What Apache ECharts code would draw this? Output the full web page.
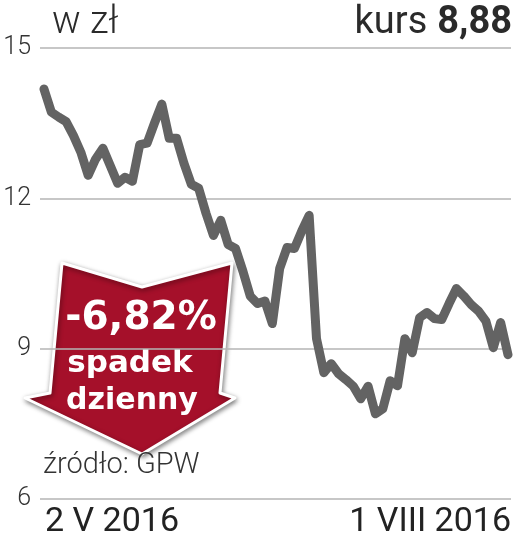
<!DOCTYPE html>
<html><head><meta charset="utf-8">
<script src="https://cdn.jsdelivr.net/npm/echarts@6/dist/echarts.min.js"></script>
<style>html,body{margin:0;padding:0;background:#fff}#c{width:516px;height:551px}</style>
</head><body><div id="c"></div>
<script>
const dates = [
  '2016-05-02','2016-05-04','2016-05-05','2016-05-06','2016-05-09','2016-05-10','2016-05-11','2016-05-12','2016-05-13',
  '2016-05-16','2016-05-17','2016-05-18','2016-05-19','2016-05-20','2016-05-23','2016-05-24','2016-05-25','2016-05-27',
  '2016-05-30','2016-05-31','2016-06-01','2016-06-02','2016-06-03','2016-06-06','2016-06-07','2016-06-08','2016-06-09',
  '2016-06-10','2016-06-13','2016-06-14','2016-06-15','2016-06-16','2016-06-17','2016-06-20','2016-06-21','2016-06-22',
  '2016-06-23','2016-06-24','2016-06-27','2016-06-28','2016-06-29','2016-06-30','2016-07-01','2016-07-04','2016-07-05',
  '2016-07-06','2016-07-07','2016-07-08','2016-07-11','2016-07-12','2016-07-13','2016-07-14','2016-07-15','2016-07-18',
  '2016-07-19','2016-07-20','2016-07-21','2016-07-22','2016-07-25','2016-07-26','2016-07-27','2016-07-28','2016-07-29',
  '2016-08-01'
];
const prices = [
  14.18, 13.72, 13.62, 13.53, 13.25, 12.92, 12.46, 12.78, 13.0, 12.65,
  12.3, 12.42, 12.34, 13.07, 13.1, 13.5, 13.88, 13.2, 13.2, 12.7,
  12.28, 12.2, 11.7, 11.26, 11.56, 11.08, 11.0, 10.55, 10.05, 9.9,
  9.95, 9.5, 10.6, 11.02, 11.0, 11.35, 11.66, 9.2, 8.52, 8.7,
  8.5, 8.38, 8.25, 8.0, 8.25, 7.7, 7.8, 8.36, 8.26, 9.2,
  8.92, 9.62, 9.72, 9.6, 9.58, 9.9, 10.2, 10.05, 9.88, 9.75,
  9.55, 9.02, 9.52, 8.88
];
const yTicks = [6, 9, 12, 15];
const xTickLabels = ['2 V 2016', '1 VIII 2016'];
const unitLabel = 'w zł';
const priceLabel = 'kurs';
const lastPrice = '8,88';
const changeLabel = '-6,82%';
const changeLines = ['spadek', 'dzienny'];
const sourceLabel = 'źródło: GPW';

const chart = echarts.init(document.getElementById('c'), null, {renderer: 'canvas'});
const yMin = yTicks[0], yMax = yTicks[yTicks.length - 1], yStep = yTicks[1] - yTicks[0];
const last = dates.length - 1;

chart.setOption({
  animation: false,
  backgroundColor: '#ffffff',
  grid: [
    {left: 44, right: 8, top: 48, bottom: 52},
    {left: 40, right: 5, top: 48, bottom: 52}
  ],
  xAxis: [
    {
      type: 'category', gridIndex: 0, data: dates, boundaryGap: false,
      axisLine: {show: false}, axisTick: {show: false}, splitLine: {show: false},
      axisLabel: {
        interval: (i) => i === 0 || i === last,
        formatter: (v, i) => (i === 0 ? xTickLabels[0] : xTickLabels[1]),
        alignMinLabel: 'left', alignMaxLabel: 'right',
        showMinLabel: true, showMaxLabel: true,
        fontFamily: 'Roboto', fontSize: 34, color: '#222', margin: 6,
        padding: [0, -3, 0, 1]
      }
    },
    {type: 'value', gridIndex: 1, show: false, min: 0, max: 1}
  ],
  yAxis: [
    {type: 'value', gridIndex: 0, min: yMin, max: yMax, interval: yStep, show: false},
    {
      type: 'value', gridIndex: 1, min: yMin, max: yMax, interval: yStep,
      axisLine: {show: false}, axisTick: {show: false},
      splitLine: {show: true, lineStyle: {color: '#b4b4b4', width: 1.5}},
      axisLabel: {fontFamily: 'Roboto', fontWeight: 300, fontSize: 25, color: '#333', margin: 9}
    }
  ],
  series: [{
    type: 'line', xAxisIndex: 0, yAxisIndex: 0, data: prices,
    showSymbol: false, symbol: 'none', z: 3,
    lineStyle: {color: '#636363', width: 9, cap: 'round', join: 'round'}
  }],
  graphic: [
    {type: 'text', left: 52, top: 4, z: 10, style: {text: unitLabel, fontFamily: 'Roboto', fontWeight: 300, fontSize: 38, fill: '#2a2a2a'}},
    {type: 'text', right: 4, top: 4, z: 10, style: {
      text: '{a|' + priceLabel + '}   {b|' + lastPrice + '}',
      rich: {
        a: {fontFamily: 'Roboto', fontWeight: 400, fontSize: 38, fill: '#2a2a2a', color: '#2a2a2a'},
        b: {fontFamily: 'Roboto', fontWeight: 700, fontSize: 38, fill: '#2a2a2a', color: '#2a2a2a'}
      }
    }},
    {type: 'text', left: 43, top: 451, z: 10, style: {text: sourceLabel, fontFamily: 'Roboto', fontWeight: 300, fontSize: 29, fill: '#333'}},
    {
      type: 'group', z: 20,
      children: [
        {type: 'polygon', shape: {points: [[62,263],[142,287],[232,263],[220,393],[235,398],[142,454],[25,398],[50,393]]},
          style: {fill: '#a5102a', stroke: '#ffffff', lineWidth: 3, lineJoin: 'round',
            shadowBlur: 5, shadowOffsetX: 1, shadowOffsetY: 2, shadowColor: 'rgba(0,0,0,0.45)'}},
        {type: 'text', x: 141, y: 319, style: {text: changeLabel, fontFamily: 'DejaVu Sans', fontWeight: 700, fontSize: 39, fill: '#fff', align: 'center', verticalAlign: 'middle'}},
        {type: 'text', x: 130, y: 364, style: {text: changeLines[0], fontFamily: 'DejaVu Sans', fontWeight: 700, fontSize: 31, fill: '#fff', align: 'center', verticalAlign: 'middle'}},
        {type: 'text', x: 132, y: 401, style: {text: changeLines[1], fontFamily: 'DejaVu Sans', fontWeight: 700, fontSize: 30, fill: '#fff', align: 'center', verticalAlign: 'middle'}}
      ]
    }
  ]
});
</script>
</body></html>
